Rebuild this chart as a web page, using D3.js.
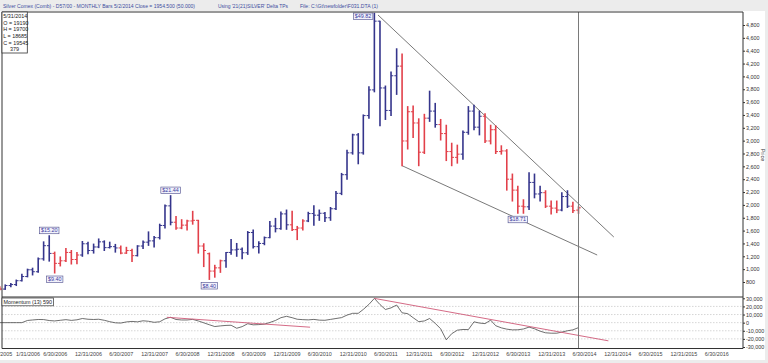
<!DOCTYPE html>
<html>
<head>
<meta charset="utf-8">
<script src="https://cdn.jsdelivr.net/npm/d3@7"></script>
<style>
  body { margin: 0; background: #fff; }
  svg { display: block; font-family: "Liberation Sans", Arial, sans-serif; }
</style>
</head>
<body>
<svg id="chart" width="768" height="363"></svg>
<script>
// --- data (prices in cents, monthly bars Aug 2005 .. May 2014)
const firstMonth = '2005-08';

const opens = [
  715, 690, 745, 760, 820, 885, 990, 960, 1160, 1365,
  1245, 1090, 1130, 1260, 1150, 1220, 1395, 1290, 1345, 1425,
  1335, 1350, 1330, 1250, 1290, 1210, 1360, 1420, 1440, 1490,
  1680, 1985, 1730, 1640, 1685, 1750, 1760, 1360, 1240, 970,
  1020, 1130, 1260, 1300, 1310, 1255, 1570, 1350, 1400, 1490,
  1670, 1630, 1860, 1690, 1615, 1640, 1750, 1865, 1840, 1870,
  1800, 1940, 2180, 2470, 2810, 3090, 2810, 3390, 3790, 4860,
  3820, 3470, 4010, 4160, 2995, 3450, 3275, 2820, 3350, 3460,
  3250, 3110, 2830, 2740, 2790, 3130, 3460, 3210, 3380, 2995,
  3170, 2830, 2840, 2400, 2230, 1980, 1970, 2350, 2170, 2190,
  1980, 1950, 1920, 2130, 1980, 1919
];
const highs = [
  727, 755, 775, 830, 920, 1000, 1015, 1175, 1425, 1520,
  1265, 1190, 1320, 1290, 1260, 1430, 1420, 1390, 1470, 1440,
  1420, 1385, 1360, 1340, 1310, 1365, 1440, 1580, 1510, 1700,
  2000, 2144, 1820, 1770, 1760, 1900, 1760, 1395, 1250, 1060,
  1140, 1260, 1460, 1400, 1330, 1585, 1610, 1425, 1500, 1740,
  1790, 1890, 1920, 1900, 1665, 1770, 1885, 1985, 1920, 1880,
  1960, 2210, 2490, 2850, 3100, 3110, 3400, 3840, 4982, 4860,
  3850, 4070, 4430, 4350, 3530, 3540, 3340, 3410, 3770, 3580,
  3330, 3240, 2960, 2930, 3150, 3530, 3550, 3460, 3420, 3240,
  3230, 2920, 2860, 2480, 2290, 2080, 2500, 2480, 2290, 2220,
  2060, 2060, 2190, 2220, 2040, 1970
];
const lows = [
  678, 685, 725, 745, 815, 880, 910, 950, 1140, 1125,
  940, 1050, 1120, 1080, 1085, 1200, 1240, 1250, 1335, 1290,
  1330, 1265, 1240, 1245, 1120, 1205, 1320, 1370, 1345, 1470,
  1640, 1690, 1620, 1630, 1610, 1700, 1250, 1040, 840, 875,
  950, 1030, 1230, 1200, 1160, 1230, 1330, 1250, 1380, 1490,
  1580, 1620, 1620, 1600, 1460, 1610, 1740, 1685, 1760, 1740,
  1760, 1930, 2160, 2400, 2790, 2640, 2790, 3350, 3760, 3230,
  3330, 3390, 3720, 2610, 2870, 3050, 2610, 2800, 3300, 3210,
  3010, 2690, 2610, 2650, 2710, 3100, 3170, 3090, 2970, 2950,
  2800, 2790, 2230, 2060, 1871, 1870, 1930, 2110, 2060, 1960,
  1860, 1880, 1910, 1960, 1880, 1868.5
];
const closes = [
  690, 745, 760, 820, 885, 990, 960, 1160, 1365, 1245,
  1090, 1130, 1260, 1150, 1220, 1395, 1290, 1345, 1425, 1335,
  1350, 1330, 1250, 1290, 1210, 1360, 1420, 1440, 1490, 1680,
  1985, 1730, 1640, 1685, 1750, 1760, 1360, 1290, 970, 1020,
  1130, 1260, 1300, 1310, 1255, 1570, 1350, 1400, 1490, 1670,
  1630, 1860, 1690, 1615, 1640, 1750, 1865, 1840, 1870, 1800,
  1940, 2180, 2470, 2810, 3090, 2810, 3390, 3790, 4860, 3820,
  3470, 4010, 4160, 2995, 3450, 3275, 2820, 3350, 3460, 3250,
  3110, 2830, 2740, 2790, 3130, 3460, 3210, 3380, 2995, 3170,
  2830, 2840, 2400, 2230, 1980, 1970, 2350, 2170, 2190, 1980,
  1950, 1920, 2130, 1980, 1910, 1954.5
];
// trend state per bar: u = up (blue), d = down (red)
const trend = (
  'd' + 'uuuuuuuuu' + 'ddddd' + 'uuuuuuu' + 'ddd' + 'uuuuuuu' + 'ddddddddd' +
  'uuuuuuuuuuuu' + 'ddd' + 'uuuuuuuuuuuuuuuuu' + 'ddddd' + 'uu' + 'dddd' +
  'uuuu' + 'dddddddd' + 'uuu' + 'ddd' + 'uu' + 'dd'
).split('');

const momentum = [
  0, 0, 0, 0, 0, 2700, 3300, 3900, 3800, 2600,
  2100, 2900, 3700, 2800, 3500, 5100, 4200, 3900, 4200, 2900,
  1200, -200, -500, 900, 1500, 1000, 2300, 1700, 400, 1100,
  4700, 6600, 3900, 3300, 3300, 4000, 2100, -200, -2600, -4800,
  -4000, -3400, -3200, -6900, -4900, -1300, -2700, -2400, -1800, 200,
  2700, 6100, 7800, 6100, 4200, 3700, 3400, 4000, 3100, 2900,
  4000, 5100, 6200, 9300, 11500, 11500, 16300, 22500, 29900, 22300,
  16200, 18200, 21700, 12100, 11100, 6100, 1200, 2100, 5100, -900,
  -7500, -21200, -13600, -9300, -8400, -8600, 1000, -500, -1200, 3100,
  -3800, -6400, -8000, -8900, -8800, -7800, -5500, -7500, -10500, -12500,
  -13000, -13000, -11600, -10000, -8900, -6100
];

// swing labels: bar month, which end of the bar, text
const swingMonths = ['2006-05', '2006-06', '2008-03', '2008-10', '2011-04', '2013-06'];
const swingSides = ['high', 'low', 'high', 'low', 'high', 'low'];
const swingTexts = ['$15.20', '$9.40', '$21.44', '$8.40', '$49.82', '$18.71'];

// trend lines: [date, value] pairs
const priceLines = [
  [['2011-05-20', 4956], ['2014-12-12', 1500]],
  [['2011-09-30', 2610], ['2014-09-11', 1220]]
];
const momentumLines = [
  [['2008-03-10', 6600], ['2010-05-10', -5600]],
  [['2011-04-30', 29900], ['2014-11-12', -22400]]
];

const priceTicks = d3.range(800, 4801, 200);
const momentumTicks = [30000, 20000, 10000, 0, -10000, -20000, -30000];
const dateTicks = [
  '8/31/2005', '1/31/2006', '6/30/2006', '12/31/2006', '6/30/2007', '12/31/2007',
  '6/30/2008', '12/31/2008', '6/30/2009', '12/31/2009', '6/30/2010', '12/31/2010',
  '6/30/2011', '12/31/2011', '6/30/2012', '12/31/2012', '6/30/2013', '12/31/2013',
  '6/30/2014', '12/31/2014', '6/30/2015', '12/31/2015', '6/30/2016'
];

const titleText = 'Silver Comex (Comb) - D57/00   -  MONTHLY Bars  5/2/2014 Close = 1954.500 (50.000)';
const usingText = "Using '21(21)SILVER' Delta TPs";
const fileText = 'File: C:\\Gt\\newfolder\\F031.DTA (1)';
const infoLines = ['5/31/2014', 'O = 19190', 'H = 19700', 'L = 18685', 'C = 19545'];
const infoCount = '379';
const momentumTitle = 'Momentum (13)  590';

// --- layout
const W = 768, H = 363;
const plot = { left: 2, right: 743, top: 12, split: 297, bottom: 348.5 };
const UP = '#35358c', DOWN = '#e2404a';
const parseTick = d3.timeParse('%m/%d/%Y');
const parseDay = d3.timeParse('%Y-%m-%d');
const parseMonth = d3.timeParse('%Y-%m');

const monthEnd = m => d3.timeDay.offset(d3.timeMonth.offset(m, 1), -1);
const start = parseMonth(firstMonth);
const bars = closes.map((c, i) => ({
  date: monthEnd(d3.timeMonth.offset(start, i)),
  o: opens[i], h: highs[i], l: lows[i], c,
  t: trend[i],
  m: momentum[i]
}));
const lastDate = bars[bars.length - 1].date;

const x = d3.scaleTime()
  .domain([new Date(2006, 11, 31), lastDate])
  .range([88, 578.5]);
const y = d3.scaleLinear().domain([800, 4800]).range([282, 25]);
const ym = d3.scaleLinear().domain([-30000, 30000]).range([347, 298.3]);

const svg = d3.select('#chart');

// header strip and outer frame
svg.append('rect').attr('x', 0).attr('y', 0).attr('width', W).attr('height', 11).attr('fill', '#ececec');
svg.append('rect').attr('x', 765).attr('y', 0).attr('width', 3).attr('height', H).attr('fill', '#ececec');
svg.append('rect').attr('x', 0).attr('y', 360).attr('width', W).attr('height', 3).attr('fill', '#ececec');

const headerText = (txt, x0, len) => svg.append('text')
  .attr('x', x0).attr('y', 8)
  .attr('font-size', 5.6)
  .attr('fill', '#3d4da0')
  .attr('textLength', len)
  .attr('lengthAdjust', 'spacingAndGlyphs')
  .text(txt);
headerText(titleText, 3, 192);
headerText(usingText, 218, 70);
headerText(fileText, 300, 78);

// clip paths
const defs = svg.append('defs');
defs.append('clipPath').attr('id', 'clipPrice').append('rect')
  .attr('x', 0).attr('y', plot.top).attr('width', plot.right).attr('height', plot.split - plot.top);
defs.append('clipPath').attr('id', 'clipMom').append('rect')
  .attr('x', 0).attr('y', plot.split).attr('width', plot.right).attr('height', plot.bottom - plot.split);

// momentum grid
svg.append('g').selectAll('line')
  .data(momentumTicks.filter(v => Math.abs(v) < 30000))
  .enter()
  .append('line')
  .attr('x1', plot.left).attr('x2', plot.right)
  .attr('y1', d => ym(d)).attr('y2', d => ym(d))
  .attr('stroke', '#bbb')
  .attr('stroke-width', 0.6)
  .attr('stroke-dasharray', '1.5,1.5');

// price trend lines
const priceG = svg.append('g').attr('clip-path', 'url(#clipPrice)');
priceG.selectAll('.trendLine')
  .data(priceLines)
  .enter()
  .append('line')
  .attr('x1', d => x(parseDay(d[0][0]))).attr('y1', d => y(d[0][1]))
  .attr('x2', d => x(parseDay(d[1][0]))).attr('y2', d => y(d[1][1]))
  .attr('stroke', '#6a6a6a')
  .attr('stroke-width', 0.9);

// OHLC bars
const barG = priceG.selectAll('.bar')
  .data(bars)
  .enter()
  .append('g')
  .attr('stroke', d => d.t === 'u' ? UP : DOWN)
  .attr('stroke-width', 1.6);
barG.append('line')
  .attr('x1', d => x(d.date)).attr('x2', d => x(d.date))
  .attr('y1', d => y(d.h) - 0.5).attr('y2', d => y(d.l) + 0.5);
barG.append('line')
  .attr('stroke-width', 1)
  .attr('x1', d => x(d.date) - 2.3).attr('x2', d => x(d.date))
  .attr('y1', d => y(d.o)).attr('y2', d => y(d.o));
barG.append('line')
  .attr('stroke-width', 1)
  .attr('x1', d => x(d.date)).attr('x2', d => x(d.date) + 2.3)
  .attr('y1', d => y(d.c)).attr('y2', d => y(d.c));

// swing labels
const swingG = svg.append('g');
swingMonths.forEach((m, i) => {
  const bar = bars.find(b => d3.timeFormat('%Y-%m')(b.date) === m);
  const bx = x(bar.date);
  const g = swingG.append('g');
  const t = g.append('text')
    .attr('font-size', 5.4)
    .attr('fill', '#3a3aa0')
    .attr('text-anchor', 'middle')
    .text(swingTexts[i]);
  const tw = t.node().getComputedTextLength() + 3;
  const bh = 6.6;
  let cx = bx, top;
  if (swingSides[i] === 'high') {
    top = y(bar.h) - bh - 2;
    if (top < plot.top + 1) {
      top = plot.top + 1;
      cx = bx - tw / 2 - 1.5;
    }
  } else {
    top = y(bar.l) + 3;
  }
  g.insert('rect', 'text')
    .attr('x', cx - tw / 2).attr('y', top)
    .attr('width', tw).attr('height', bh)
    .attr('fill', '#f2f2fb')
    .attr('stroke', '#4a4a8a')
    .attr('stroke-width', 0.6);
  t.attr('x', cx).attr('y', top + bh - 1.5);
});

// momentum line and trend lines
const momG = svg.append('g').attr('clip-path', 'url(#clipMom)');
momG.append('path')
  .datum(bars)
  .attr('fill', 'none')
  .attr('stroke', '#4a4a4a')
  .attr('stroke-width', 0.8)
  .attr('d', d3.line().x(d => x(d.date)).y(d => ym(d.m)));
momG.selectAll('.momLine')
  .data(momentumLines)
  .enter()
  .append('line')
  .attr('x1', d => x(parseDay(d[0][0]))).attr('y1', d => ym(d[0][1]))
  .attr('x2', d => x(parseDay(d[1][0]))).attr('y2', d => ym(d[1][1]))
  .attr('stroke', '#cf5a78')
  .attr('stroke-width', 0.9);

// current bar cursor
svg.append('line')
  .attr('x1', x(lastDate)).attr('x2', x(lastDate))
  .attr('y1', plot.top).attr('y2', plot.bottom)
  .attr('stroke', '#7a7a7a')
  .attr('stroke-width', 1);

// frame
const frame = svg.append('g').attr('stroke', '#333').attr('stroke-width', 1).attr('fill', 'none');
frame.append('path')
  .attr('d', `M${plot.left},${plot.bottom}V${plot.top}H${plot.right}V${plot.bottom}H${plot.left}`);
frame.append('line')
  .attr('x1', plot.left).attr('x2', plot.right)
  .attr('y1', plot.split).attr('y2', plot.split);

// right axes
const styleAxis = g => {
  g.select('.domain').remove();
  g.selectAll('line').attr('stroke', '#333');
  g.selectAll('text').attr('font-size', 5.4).attr('fill', '#333').attr('font-family', null);
};
const fmt = v => d3.format(',')(v).replace('\u2212', '-');

svg.append('g')
  .attr('transform', `translate(${plot.right},0)`)
  .call(d3.axisRight(y).tickValues(priceTicks).tickFormat(fmt).tickSize(2).tickPadding(1))
  .call(styleAxis);
svg.append('g')
  .attr('transform', `translate(${plot.right},0)`)
  .call(d3.axisRight(ym).tickValues(momentumTicks).tickFormat(fmt).tickSize(2).tickPadding(1))
  .call(styleAxis);

svg.append('text')
  .attr('transform', 'translate(761,155) rotate(90)')
  .attr('text-anchor', 'middle')
  .attr('font-size', 5.6)
  .attr('fill', '#333')
  .text('Price');

// date axis
svg.append('g')
  .attr('transform', `translate(0,${plot.bottom})`)
  .call(d3.axisBottom(x)
    .tickValues(dateTicks.map(parseTick))
    .tickFormat((d, i) => dateTicks[i])
    .tickSize(0).tickPadding(3.5))
  .call(g => {
    g.select('.domain').remove();
    g.selectAll('text').attr('font-size', 5.4).attr('fill', '#444').attr('font-family', null)
      .attr('dy', '0.71em');
  });

// info box
const info = svg.append('g');
info.append('rect')
  .attr('x', plot.left).attr('y', plot.top)
  .attr('width', 25.3).attr('height', 41)
  .attr('fill', '#fff').attr('stroke', '#333').attr('stroke-width', 0.8);
info.selectAll('.infoLine')
  .data(infoLines)
  .enter()
  .append('text')
  .attr('x', 3.2)
  .attr('y', (d, i) => 17.8 + i * 6.7)
  .attr('font-size', 5.4)
  .attr('fill', '#222')
  .text(d => d);
info.append('text')
  .attr('x', 14.5).attr('y', 17.8 + 5 * 6.7)
  .attr('text-anchor', 'middle')
  .attr('font-size', 5.4)
  .attr('fill', '#222')
  .text(infoCount);

// momentum title box
const mt = svg.append('g');
mt.append('rect')
  .attr('x', plot.left).attr('y', plot.split + 1)
  .attr('width', 51.5).attr('height', 7.8)
  .attr('fill', '#fff').attr('stroke', '#333').attr('stroke-width', 0.7);
mt.append('text')
  .attr('x', 3.5).attr('y', plot.split + 7)
  .attr('font-size', 5.4)
  .attr('fill', '#222')
  .text(momentumTitle);
</script>
</body>
</html>
